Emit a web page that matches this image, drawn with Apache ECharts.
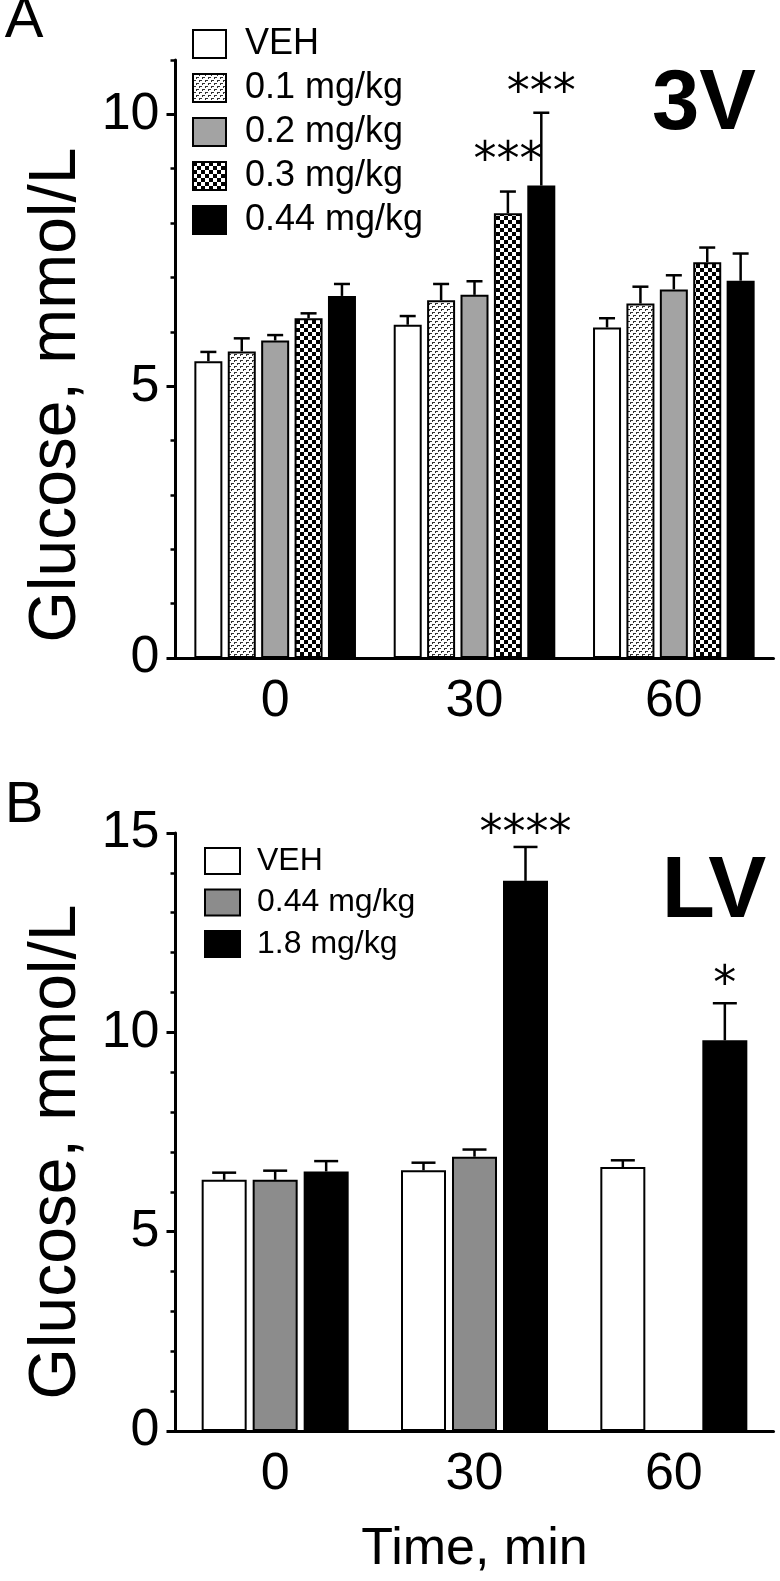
<!DOCTYPE html>
<html><head><meta charset="utf-8">
<script src="https://cdn.jsdelivr.net/npm/echarts@6/dist/echarts.min.js"></script>
<style>html,body{margin:0;padding:0;background:#fff}#c{width:780px;height:1581px}</style>
</head><body><div id="c"></div>
<script>
// ---------- data ----------
const categories = ['0', '30', '60'];           // Time, min
// Panel A (3V)
const seriesA = ['VEH', '0.1 mg/kg', '0.2 mg/kg', '0.3 mg/kg', '0.44 mg/kg'];
const vehA   = [5.46, 6.13, 6.08];
const d01A   = [5.64, 6.58, 6.52];
const d02A   = [5.84, 6.68, 6.78];
const d03A   = [6.25, 8.18, 7.28];
const d044A  = [6.66, 8.69, 6.94];
const semVehA = [0.17, 0.16, 0.17];
const sem01A  = [0.24, 0.30, 0.31];
const sem02A  = [0.10, 0.25, 0.26];
const sem03A  = [0.09, 0.40, 0.27];
const sem044A = [0.22, 1.34, 0.50];
const yTicksA = [0, 5, 10];
// Panel B (LV)
const seriesB = ['VEH', '0.44 mg/kg', '1.8 mg/kg'];
const vehB   = [6.30, 6.54, 6.62];
const d044B  = [6.30, 6.88, null];
const d18B   = [6.51, 13.80, 9.80];
const semVehB = [0.18, 0.19, 0.17];
const sem044B = [0.23, 0.18, null];
const sem18B  = [0.26, 0.85, 0.93];
const yTicksB = [0, 5, 10, 15];
// significance marks (category index, bar slot, level of mark centre)
const starTextA = ['***', '***'];
const starCatA  = [1, 1];
const starSlotA = [3, 4];
const starYA    = [9.33, 10.58];
const starTextB = ['****', '*'];
const starCatB  = [1, 2];
const starSlotB = [2, 2];
const starYB    = [15.22, 11.45];

// ---------- styles ----------
const FONT = '"Liberation Sans", Arial, Helvetica, sans-serif';
function makePattern(size, draw) {
  const c = document.createElement('canvas');
  c.width = size; c.height = size;
  const ctx = c.getContext('2d');
  ctx.fillStyle = '#fff'; ctx.fillRect(0, 0, size, size);
  draw(ctx);
  return { image: c, repeat: 'repeat' };
}
const dashPattern = makePattern(6, ctx => {
  ctx.fillStyle = '#333';
  ctx.fillRect(0, 0, 3, 1); ctx.fillRect(0, 1, 1, 1);
  ctx.fillRect(3, 3, 3, 1); ctx.fillRect(3, 4, 1, 1);
});
const checkPattern = makePattern(8, ctx => {
  ctx.fillStyle = '#000';
  ctx.fillRect(0, 0, 4, 4); ctx.fillRect(4, 4, 4, 4);
});
const fillsA = ['#ffffff', dashPattern, '#a3a3a3', checkPattern, '#000000'];
const fillsB = ['#ffffff', '#8c8c8c', '#000000'];

const BAR_A = 28, PITCH_A = 33.4, CAP_A = 16;
const BAR_B = 45, PITCH_B = 51, CAP_B = 24;
const STAR_FS = 46;

function xAxisCfg(gridIndex, name) {
  return {
    type: 'category', gridIndex, data: categories, boundaryGap: true,
    axisLine: { lineStyle: { color: '#000', width: 3 } },
    axisTick: { alignWithLabel: true, length: 8, lineStyle: { color: '#000', width: 3 } },
    axisLabel: { color: '#000', fontSize: 52, fontFamily: FONT, margin: 18 },
    splitLine: { show: false },
    name: name || '', nameLocation: 'middle', nameGap: 93,
    nameTextStyle: { color: '#000', fontSize: 52, fontFamily: FONT }
  };
}
function yName(shift) {
  return {
    name: 'Glucose, mmol/L', nameLocation: 'middle', nameGap: 86,
    nameTextStyle: { color: '#000', fontSize: 66, fontFamily: FONT, padding: [0, shift, 0, 0] }
  };
}

function barSeries(names, arrays, fills, xi, yi, bw, gap) {
  return names.map((n, i) => ({
    type: 'bar', name: n, xAxisIndex: xi, yAxisIndex: yi,
    data: arrays[i].map(v => (v == null ? '-' : v)),
    barWidth: bw, barGap: gap,
    itemStyle: { color: fills[i], borderColor: '#000', borderWidth: 2 },
    emphasis: { disabled: true }, z: 2
  }));
}

function errSeries(means, sems, xi, yi, nSlots, pitch, cap) {
  const data = [];
  means.forEach((arr, s) => arr.forEach((m, c) => {
    if (m != null) data.push([c, m, m + sems[s][c], s]);
  }));
  return {
    type: 'custom', xAxisIndex: xi, yAxisIndex: yi, z: 5, silent: true,
    data, encode: { x: 0, y: 1 },
    renderItem(params, api) {
      const c = api.value(0), s = api.value(3);
      const p0 = api.coord([c, api.value(1)]);
      const p1 = api.coord([c, api.value(2)]);
      const x = p0[0] + (s - (nSlots - 1) / 2) * pitch;
      const st = { stroke: '#000', lineWidth: 2.5 };
      return { type: 'group', children: [
        { type: 'line', shape: { x1: x, y1: p0[1], x2: x, y2: p1[1] }, style: st },
        { type: 'line', shape: { x1: x - cap / 2, y1: p1[1], x2: x + cap / 2, y2: p1[1] }, style: st }
      ] };
    }
  };
}

function starSeries(texts, cats, slots, ys, xi, yi, nSlots, pitch, fs) {
  const data = texts.map((t, i) => [cats[i], ys[i], slots[i], i]);
  return {
    type: 'custom', xAxisIndex: xi, yAxisIndex: yi, z: 6, silent: true,
    data, encode: { x: 0, y: 1 },
    renderItem(params, api) {
      const p = api.coord([api.value(0), api.value(1)]);
      const x = p[0] + (api.value(2) - (nSlots - 1) / 2) * pitch;
      // asterisks sit high in the em box: shift the anchor so the glyph centre lands on the value
      return { type: 'text', x, y: p[1] + fs * 0.24,
        style: { text: texts[api.value(3)], fontSize: fs, fontFamily: '"DejaVu Sans", sans-serif',
                 fill: '#000', align: 'center', verticalAlign: 'middle' } };
    }
  };
}

const chart = echarts.init(document.getElementById('c'), null, { renderer: 'canvas' });
chart.setOption({
  animation: false,
  backgroundColor: '#fff',
  grid: [
    { left: 175.5, top: 60, width: 598, height: 598 },
    { left: 175.5, top: 833, width: 598, height: 598 }
  ],
  xAxis: [xAxisCfg(0), xAxisCfg(1, 'Time, min')],
  yAxis: [
    Object.assign({
      type: 'value', gridIndex: 0, position: 'left', min: 0, max: 11, interval: 1,
      axisLine: { show: true, lineStyle: { color: '#000', width: 3 } },
      axisTick: { show: true, length: 5, lineStyle: { color: '#000', width: 2.5 } },
      axisLabel: { color: '#000', fontSize: 52, fontFamily: FONT, margin: 16,
        formatter: v => (yTicksA.indexOf(v) >= 0 ? String(v) : '') },
      splitLine: { show: false }
    }, yName(72)),
    {
      type: 'value', gridIndex: 0, position: 'left', offset: 0, min: 0, max: 11,
      axisLine: { show: false },
      axisTick: { show: true, length: 9, customValues: yTicksA, lineStyle: { color: '#000', width: 3 } },
      axisLabel: { show: false }, splitLine: { show: false }
    },
    Object.assign({
      type: 'value', gridIndex: 1, position: 'left', min: 0, max: 15, interval: 5,
      axisLine: { show: true, lineStyle: { color: '#000', width: 3 } },
      axisTick: { show: true, length: 9, lineStyle: { color: '#000', width: 3 } },
      minorTick: { show: true, splitNumber: 5, length: 5, lineStyle: { color: '#000', width: 2.5 } },
      axisLabel: { color: '#000', fontSize: 52, fontFamily: FONT, margin: 16 },
      splitLine: { show: false }
    }, yName(40))
  ],
  legend: [
    {
      left: 192, top: 26, orient: 'vertical', padding: 0, icon: 'rect',
      itemWidth: 33, itemHeight: 28, itemGap: 8, selectedMode: false,
      data: seriesA.map(n => ({ name: n })),
      itemStyle: { borderColor: '#000', borderWidth: 2 },
      textStyle: { color: '#000', fontSize: 36, fontFamily: FONT, lineHeight: 28, padding: [0, 0, 0, 14] }
    },
    {
      left: 204, top: 845, orient: 'vertical', padding: 0, icon: 'rect',
      itemWidth: 35, itemHeight: 26, itemGap: 9.5, selectedMode: false,
      data: seriesB.map((n, i) => ({ name: n, itemStyle: { color: fillsB[i], borderColor: '#000', borderWidth: 2 } })),
      itemStyle: { borderColor: '#000', borderWidth: 2 },
      textStyle: { color: '#000', fontSize: 32, fontFamily: FONT, lineHeight: 26, padding: [0, 0, 0, 12] }
    }
  ],
  graphic: [
    { type: 'text', x: 24, y: 21, style: { text: 'A', font: '58px "Liberation Sans", Arial', fill: '#000', align: 'center', verticalAlign: 'middle' } },
    { type: 'text', x: 24, y: 806, style: { text: 'B', font: '58px "Liberation Sans", Arial', fill: '#000', align: 'center', verticalAlign: 'middle' } },
    { type: 'text', x: 704, y: 106, style: { text: '3V', font: 'bold 85px "Liberation Sans", Arial', fill: '#000', align: 'center', verticalAlign: 'middle' } },
    { type: 'text', x: 714, y: 893, style: { text: 'LV', font: 'bold 87px "Liberation Sans", Arial', fill: '#000', align: 'center', verticalAlign: 'middle' } }
  ],
  series: [].concat(
    barSeries(seriesA, [vehA, d01A, d02A, d03A, d044A], fillsA, 0, 0, BAR_A, ((PITCH_A - BAR_A) / BAR_A * 100) + '%'),
    [errSeries([vehA, d01A, d02A, d03A, d044A], [semVehA, sem01A, sem02A, sem03A, sem044A], 0, 0, 5, PITCH_A, CAP_A)],
    [starSeries(starTextA, starCatA, starSlotA, starYA, 0, 0, 5, PITCH_A, STAR_FS)],
    barSeries(seriesB, [vehB, d044B, d18B], fillsB, 1, 2, BAR_B, ((PITCH_B - BAR_B) / BAR_B * 100) + '%'),
    [errSeries([vehB, d044B, d18B], [semVehB, sem044B, sem18B], 1, 2, 3, PITCH_B, CAP_B)],
    [starSeries(starTextB, starCatB, starSlotB, starYB, 1, 2, 3, PITCH_B, STAR_FS)]
  )
});
</script>
</body></html>
